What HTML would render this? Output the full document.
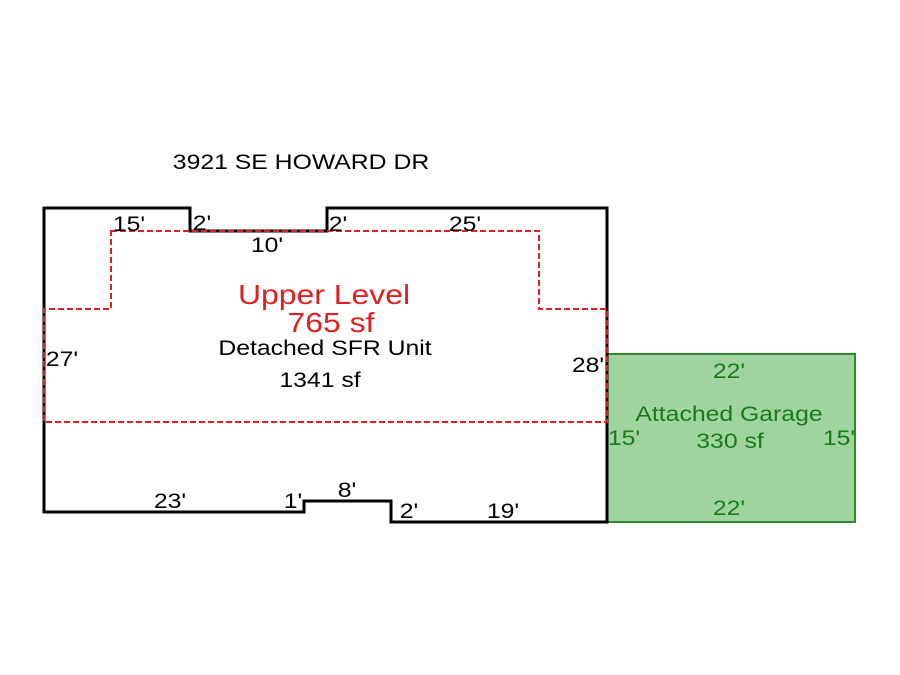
<!DOCTYPE html>
<html><head><style>body{margin:0;background:#fff}svg{display:block}</style></head><body>
<svg width="900" height="675" xmlns="http://www.w3.org/2000/svg" font-family="Liberation Sans, sans-serif">
<rect width="900" height="675" fill="#fff"/>
<rect x="607" y="354" width="248" height="168" fill="#9fd49f" stroke="#2e8b2e" stroke-width="2"/>
<path d="M44 208 H190 V231 H327 V208 H607 V522 H391 V501 H304 V512 H44 Z" fill="none" stroke="#000" stroke-width="3"/>
<path d="M111 231 H539 V309 H607 V422 H44 V309 H111 Z" fill="none" stroke="#e02020" stroke-width="2" stroke-dasharray="6,3"/>
<g font-size="21" fill="#000" text-anchor="middle">
<g transform="translate(301,169) scale(1.18,1)"><text>3921 SE HOWARD DR</text></g>
<g transform="translate(129,231) scale(1.18,1)"><text>15'</text></g>
<g transform="translate(202,230) scale(1.18,1)"><text>2'</text></g>
<g transform="translate(338,231) scale(1.18,1)"><text>2'</text></g>
<g transform="translate(465,231) scale(1.18,1)"><text>25'</text></g>
<g transform="translate(267,252) scale(1.18,1)"><text>10'</text></g>
<g transform="translate(62,366) scale(1.18,1)"><text>27'</text></g>
<g transform="translate(588,372) scale(1.18,1)"><text>28'</text></g>
<g transform="translate(170,508) scale(1.18,1)"><text>23'</text></g>
<g transform="translate(293,508) scale(1.18,1)"><text>1'</text></g>
<g transform="translate(347,497) scale(1.18,1)"><text>8'</text></g>
<g transform="translate(409,518) scale(1.18,1)"><text>2'</text></g>
<g transform="translate(503,518) scale(1.18,1)"><text>19'</text></g>
<g transform="translate(325,355) scale(1.18,1)"><text>Detached SFR Unit</text></g>
<g transform="translate(320,387) scale(1.18,1)"><text>1341 sf</text></g>
</g>
<g font-size="28" fill="#e02020" text-anchor="middle">
<g transform="translate(324,304) scale(1.14,1)"><text>Upper Level</text></g>
<g transform="translate(331,332) scale(1.14,1)"><text>765 sf</text></g>
</g>
<g font-size="21" fill="#1a7a1a" text-anchor="middle">
<g transform="translate(729,378) scale(1.18,1)"><text>22'</text></g>
<g transform="translate(729,515) scale(1.18,1)"><text>22'</text></g>
<g transform="translate(624,445) scale(1.18,1)"><text>15'</text></g>
<g transform="translate(839,445) scale(1.18,1)"><text>15'</text></g>
<g transform="translate(729,421) scale(1.18,1)"><text>Attached Garage</text></g>
<g transform="translate(730,448) scale(1.18,1)"><text>330 sf</text></g>
</g>
</svg>
</body></html>
